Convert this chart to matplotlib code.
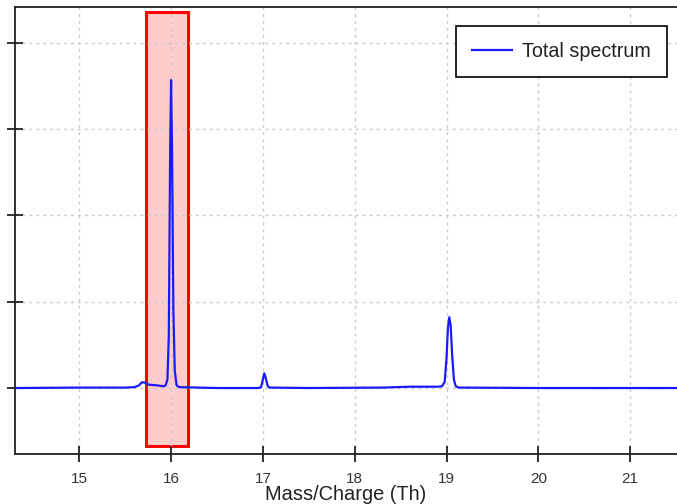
import matplotlib
matplotlib.use("Agg")
import matplotlib.pyplot as plt
from matplotlib.patches import Rectangle

plt.rcParams['font.family'] = ['Liberation Sans', 'DejaVu Sans']

# Spectrum points (m/z, intensity in y-tick units)
mz = [14.30, 15.00, 15.50, 15.60, 15.65, 15.68, 15.71, 15.75, 15.85, 15.92,
      15.94, 15.96, 15.975, 15.99, 16.00, 16.01, 16.025, 16.04, 16.06, 16.09,
      16.50, 16.95, 16.98, 17.00, 17.015, 17.03, 17.05, 17.07, 17.50, 18.30,
      18.60, 18.90, 18.95, 18.98, 19.00, 19.015, 19.03, 19.045, 19.06, 19.08,
      19.10, 19.13, 20.00, 21.60]
intensity = [0.0, 0.005, 0.005, 0.01, 0.03, 0.065, 0.065, 0.04, 0.03, 0.02,
             0.03, 0.10, 0.60, 2.80, 3.57, 2.80, 0.90, 0.20, 0.03, 0.01,
             0.0, 0.0, 0.01, 0.10, 0.17, 0.12, 0.03, 0.005, 0.0, 0.005,
             0.015, 0.015, 0.02, 0.07, 0.35, 0.70, 0.82, 0.72, 0.40, 0.10,
             0.02, 0.005, 0.0, 0.0]

series_label = "Total spectrum"
x_ticks = [15, 16, 17, 18, 19, 20, 21]
y_ticks = [0, 1, 2, 3, 4]
x_label = "Mass/Charge (Th)"

# highlighted selection window
sel_x = [15.727, 16.185]
sel_y = [-0.672, 4.36]

fig = plt.figure(figsize=(6.77, 5.04), dpi=100)
ax = fig.add_axes([15/677, 50/504, 1 - 15/677, 447/504])

ax.add_patch(Rectangle((sel_x[0], sel_y[0]), sel_x[1] - sel_x[0], sel_y[1] - sel_y[0],
                       facecolor='#ffcccc', edgecolor='#ff0000', linewidth=2.2, zorder=1))
ax.plot(mz, intensity, color='#1a1aff', linewidth=1.6, label=series_label, zorder=2)

ax.set_xlim(14.3, 21.51)
ax.set_ylim(-0.765, 4.417)
ax.set_xticks(x_ticks)
ax.set_yticks(y_ticks)
ax.set_yticklabels([])
ax.grid(True, color='#c8c8c8', linestyle=(0, (2, 3)), linewidth=1.0)

for side in ['left', 'bottom', 'top']:
    ax.spines[side].set_linewidth(1.3)
    ax.spines[side].set_color('#222222')
ax.spines['right'].set_visible(False)

ax.tick_params(axis='x', direction='inout', length=11, width=1.3, color='#222222',
               labelsize=11, labelcolor='#333333', pad=7.5)
ax.tick_params(axis='y', direction='inout', length=12, width=1.3, color='#222222')

ax.set_xlabel(x_label, fontsize=14.4, color='#222222', labelpad=-1)

leg = ax.legend(loc='upper right', bbox_to_anchor=(667/677, 1 - 26/504),
                bbox_transform=fig.transFigure, borderaxespad=0, fancybox=False,
                fontsize=14.2, borderpad=0.8, handlelength=2.0, handletextpad=0.55,
                framealpha=1)
leg.get_frame().set_edgecolor('black')
leg.get_frame().set_linewidth(1.2)
for t in leg.get_texts():
    t.set_color('#222222')

fig.savefig('out.png', dpi=100)
